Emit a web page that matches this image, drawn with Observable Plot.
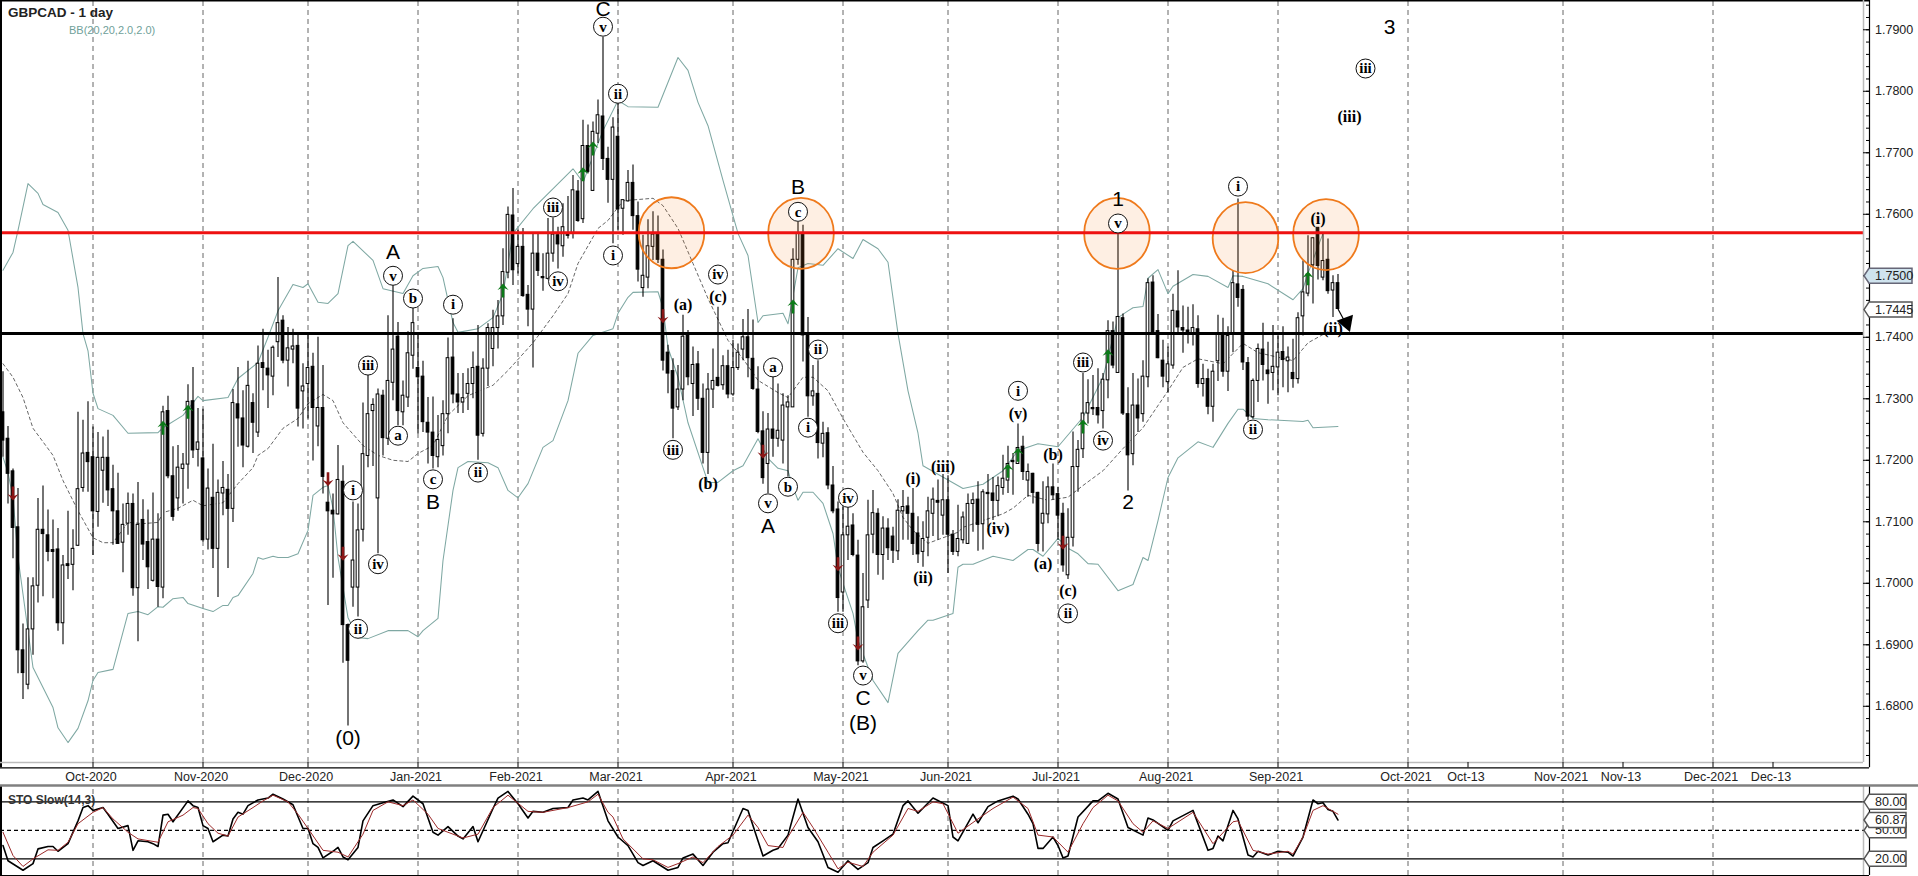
<!DOCTYPE html>
<html><head><meta charset="utf-8">
<script src="https://cdn.jsdelivr.net/npm/d3@7"></script>
<script src="https://cdn.jsdelivr.net/npm/@observablehq/plot@0.6"></script>
<style>html,body{margin:0;padding:0;background:#fff;overflow:hidden}svg{display:block}</style>
</head><body><div id="chart"></div>
<script>
const open=[1.7278,1.7235,1.7182,1.7091,1.6891,1.6835,1.6925,1.6996,1.7087,1.7078,
1.7054,1.7055,1.6935,1.7031,1.7030,1.7061,1.7155,1.7212,1.7205,1.7116,
1.7183,1.7204,1.7153,1.7117,1.7066,1.7097,1.7129,1.6992,1.7103,1.7067,
1.7004,1.7071,1.6993,1.7280,1.7174,1.7138,1.7186,1.7193,1.7296,1.7217,
1.7203,1.7071,1.7139,1.7056,1.7146,1.7152,1.7121,1.7291,1.7268,1.7222,
1.7293,1.7245,1.7358,1.7349,1.7336,1.7392,1.7427,1.7362,1.7380,1.7386,
1.7312,1.7324,1.7352,1.7255,1.7285,1.7131,1.7118,1.7112,1.7165,1.6932,
1.6993,1.6993,1.7087,1.7207,1.7280,1.7138,1.7305,1.7235,1.7326,1.7401,
1.7278,1.7302,1.7370,1.7350,1.7336,1.7261,1.7245,1.7205,1.7223,1.7275,
1.7367,1.7307,1.7294,1.7308,1.7324,1.7352,1.7243,1.7349,1.7381,1.7415,
1.7434,1.7505,1.7598,1.7519,1.7547,1.7469,1.7445,1.7536,1.7498,1.7495,
1.7536,1.7566,1.7548,1.7568,1.7568,1.7637,1.7592,1.7711,1.7638,1.7731,
1.7759,1.7690,1.7656,1.7726,1.7609,1.7621,1.7651,1.7597,1.7480,1.7497,
1.7547,1.7567,1.7526,1.7375,1.7345,1.7286,1.7315,1.7403,1.7324,1.7356,
1.7300,1.7212,1.7315,1.7334,1.7322,1.7353,1.7307,1.7350,1.7380,1.7400,
1.7365,1.7315,1.7247,1.7194,1.7250,1.7235,1.7232,1.7286,1.7286,1.7526,
1.7568,1.7403,1.7304,1.7308,1.7227,1.7244,1.7159,1.7120,1.6985,1.7078,
1.7094,1.7045,1.6873,1.6972,1.7079,1.7113,1.7046,1.7089,1.7076,1.7052,
1.7117,1.7125,1.7113,1.7081,1.7051,1.7074,1.7113,1.7134,1.7110,1.7135,
1.7079,1.7051,1.7070,1.7064,1.7129,1.7136,1.7096,1.7147,1.7146,1.7134,
1.7155,1.7167,1.7199,1.7194,1.7222,1.7167,1.7178,1.7147,1.7097,1.7112,
1.7156,1.7145,1.7113,1.7013,1.7074,1.7189,1.7218,1.7276,1.7285,1.7285,
1.7280,1.7330,1.7410,1.7342,1.7431,1.7275,1.7210,1.7289,1.7275,1.7335,
1.7489,1.7410,1.7362,1.7327,1.7354,1.7442,1.7415,1.7411,1.7405,1.7413,
1.7324,1.7332,1.7287,1.7361,1.7404,1.7344,1.7406,1.7486,1.7477,1.7358,
1.7270,1.7329,1.7380,1.7346,1.7342,1.7351,1.7376,1.7361,1.7342,1.7332,
1.7434,1.7471,1.7517,1.7578,1.7497,1.7526,1.7476,1.7488];
const close=[1.7232,1.7178,1.7090,1.6891,1.6854,1.6925,1.6995,1.7087,1.7080,1.7051,
1.7051,1.6935,1.7029,1.7028,1.7056,1.7153,1.7211,1.7197,1.7117,1.7204,
1.7204,1.7151,1.7117,1.7064,1.7095,1.7129,1.6992,1.7095,1.7063,1.7026,
1.7071,1.6994,1.7278,1.7174,1.7108,1.7188,1.7193,1.7295,1.7216,1.7229,
1.7070,1.7154,1.7056,1.7147,1.7155,1.7121,1.7293,1.7268,1.7224,1.7321,
1.7261,1.7357,1.7350,1.7338,1.7383,1.7423,1.7362,1.7382,1.7385,1.7284,
1.7320,1.7350,1.7285,1.7285,1.7173,1.7117,1.7112,1.7168,1.6932,1.6874,
1.7037,1.7086,1.7210,1.7275,1.7290,1.7307,1.7236,1.7329,1.7380,1.7280,
1.7305,1.7374,1.7423,1.7335,1.7262,1.7245,1.7207,1.7233,1.7275,1.7366,
1.7307,1.7294,1.7301,1.7324,1.7350,1.7240,1.7349,1.7415,1.7415,1.7434,
1.7506,1.7599,1.7509,1.7547,1.7467,1.7445,1.7536,1.7508,1.7496,1.7536,
1.7567,1.7551,1.7579,1.7565,1.7639,1.7589,1.7711,1.7669,1.7734,1.7761,
1.7690,1.7656,1.7741,1.7608,1.7623,1.7651,1.7597,1.7510,1.7500,1.7548,
1.7567,1.7526,1.7362,1.7341,1.7284,1.7315,1.7401,1.7335,1.7355,1.7300,
1.7212,1.7315,1.7329,1.7321,1.7353,1.7307,1.7350,1.7375,1.7400,1.7366,
1.7316,1.7246,1.7171,1.7250,1.7235,1.7248,1.7289,1.7294,1.7526,1.7568,
1.7403,1.7304,1.7312,1.7228,1.7243,1.7159,1.7117,1.6976,1.7078,1.7092,
1.7046,1.6873,1.6961,1.7078,1.7114,1.7046,1.7089,1.7057,1.7053,1.7118,
1.7124,1.7113,1.7064,1.7047,1.7072,1.7117,1.7136,1.7131,1.7135,1.7079,
1.7051,1.7072,1.7107,1.7129,1.7135,1.7095,1.7148,1.7145,1.7134,1.7158,
1.7170,1.7194,1.7197,1.7220,1.7181,1.7181,1.7147,1.7064,1.7113,1.7156,
1.7143,1.7110,1.7029,1.7074,1.7189,1.7217,1.7276,1.7293,1.7283,1.7273,
1.7331,1.7410,1.7354,1.7433,1.7276,1.7208,1.7289,1.7268,1.7336,1.7488,
1.7408,1.7366,1.7336,1.7356,1.7443,1.7416,1.7411,1.7408,1.7415,1.7324,
1.7332,1.7287,1.7344,1.7404,1.7344,1.7402,1.7488,1.7464,1.7359,1.7271,
1.7329,1.7381,1.7355,1.7340,1.7352,1.7375,1.7363,1.7367,1.7332,1.7431,
1.7473,1.7502,1.7561,1.7516,1.7524,1.7475,1.7488,1.7446];
const high=[1.7344,1.7255,1.7186,1.7154,1.6934,1.7009,1.7009,1.7138,1.7158,1.7119,
1.7103,1.7089,1.7045,1.7117,1.7087,1.7278,1.7265,1.7295,1.7254,1.7245,
1.7238,1.7249,1.7192,1.7179,1.7129,1.7147,1.7145,1.7164,1.7136,1.7119,
1.7147,1.7113,1.7288,1.7304,1.7222,1.7224,1.7211,1.7323,1.7351,1.7284,
1.7283,1.7186,1.7226,1.7168,1.7198,1.7177,1.7315,1.7351,1.7313,1.7361,
1.7308,1.7386,1.7413,1.7379,1.7386,1.7497,1.7435,1.7416,1.7413,1.7405,
1.7357,1.7405,1.7374,1.7400,1.7354,1.7161,1.7145,1.7224,1.7191,1.6934,
1.7132,1.7129,1.7293,1.7338,1.7300,1.7316,1.7314,1.7435,1.7484,1.7424,
1.7329,1.7409,1.7447,1.7405,1.7361,1.7302,1.7303,1.7273,1.7297,1.7399,
1.7430,1.7341,1.7341,1.7349,1.7376,1.7419,1.7365,1.7422,1.7444,1.7460,
1.7544,1.7612,1.7642,1.7574,1.7577,1.7484,1.7568,1.7568,1.7536,1.7593,
1.7594,1.7579,1.7617,1.7629,1.7663,1.7655,1.7753,1.7745,1.7750,1.7786,
1.7888,1.7709,1.7757,1.7782,1.7623,1.7671,1.7680,1.7620,1.7566,1.7591,
1.7604,1.7597,1.7542,1.7387,1.7365,1.7354,1.7436,1.7411,1.7384,1.7377,
1.7324,1.7341,1.7381,1.7449,1.7370,1.7379,1.7395,1.7389,1.7429,1.7445,
1.7428,1.7352,1.7279,1.7276,1.7338,1.7324,1.7308,1.7305,1.7544,1.7587,
1.7582,1.7432,1.7354,1.7362,1.7262,1.7253,1.7190,1.7132,1.7124,1.7124,
1.7113,1.7070,1.7016,1.7135,1.7151,1.7121,1.7108,1.7105,1.7091,1.7136,
1.7151,1.7140,1.7154,1.7108,1.7100,1.7140,1.7155,1.7168,1.7177,1.7175,
1.7086,1.7127,1.7116,1.7145,1.7147,1.7165,1.7152,1.7177,1.7172,1.7173,
1.7208,1.7223,1.7211,1.7259,1.7239,1.7194,1.7179,1.7148,1.7165,1.7173,
1.7194,1.7156,1.7130,1.7121,1.7246,1.7232,1.7341,1.7331,1.7338,1.7349,
1.7341,1.7427,1.7425,1.7572,1.7438,1.7318,1.7341,1.7332,1.7362,1.7495,
1.7500,1.7437,1.7395,1.7384,1.7470,1.7508,1.7451,1.7449,1.7453,1.7435,
1.7356,1.7348,1.7356,1.7436,1.7431,1.7417,1.7508,1.7625,1.7484,1.7367,
1.7332,1.7389,1.7423,1.7392,1.7419,1.7402,1.7417,1.7384,1.7397,1.7440,
1.7524,1.7565,1.7562,1.7578,1.7568,1.7560,1.7500,1.7502];
const low=[1.7205,1.7129,1.7040,1.6853,1.6811,1.6827,1.6883,1.6968,1.6978,1.7035,
1.6975,1.6922,1.6900,1.7006,1.6988,1.7060,1.7148,1.7148,1.7045,1.7091,
1.7130,1.7125,1.7062,1.7063,1.7017,1.7078,1.6979,1.6905,1.7037,1.6990,
1.7002,1.6961,1.6975,1.7170,1.7101,1.7117,1.7129,1.7153,1.7203,1.7189,
1.7067,1.7054,1.7024,1.6977,1.7110,1.7024,1.7099,1.7221,1.7188,1.7220,
1.7211,1.7237,1.7313,1.7284,1.7305,1.7367,1.7357,1.7319,1.7357,1.7254,
1.7251,1.7267,1.7199,1.7222,1.7145,1.6964,1.7008,1.7111,1.6870,1.6768,
1.6961,1.6945,1.7067,1.7188,1.7190,1.7048,1.7207,1.7224,1.7297,1.7256,
1.7256,1.7286,1.7348,1.7243,1.7245,1.7194,1.7186,1.7188,1.7207,1.7243,
1.7292,1.7276,1.7276,1.7281,1.7300,1.7200,1.7238,1.7320,1.7352,1.7381,
1.7419,1.7495,1.7484,1.7503,1.7465,1.7417,1.7350,1.7499,1.7475,1.7493,
1.7522,1.7511,1.7530,1.7560,1.7560,1.7587,1.7585,1.7666,1.7637,1.7715,
1.7671,1.7618,1.7552,1.7574,1.7566,1.7620,1.7574,1.7490,1.7465,1.7479,
1.7525,1.7520,1.7345,1.7308,1.7235,1.7281,1.7297,1.7321,1.7271,1.7281,
1.7194,1.7177,1.7284,1.7319,1.7314,1.7300,1.7304,1.7346,1.7362,1.7334,
1.7314,1.7243,1.7161,1.7146,1.7205,1.7221,1.7194,1.7173,1.7286,1.7517,
1.7360,1.7270,1.7288,1.7202,1.7204,1.7152,1.7113,1.6953,1.6953,1.7037,
1.7043,1.6866,1.6870,1.6959,1.7048,1.7013,1.7005,1.7037,1.7032,1.7037,
1.7070,1.7070,1.7045,1.7032,1.7026,1.7043,1.7076,1.7070,1.7078,1.7016,
1.7045,1.7043,1.7064,1.7063,1.7083,1.7052,1.7054,1.7091,1.7102,1.7108,
1.7143,1.7146,1.7143,1.7194,1.7167,1.7140,1.7129,1.7051,1.7051,1.7097,
1.7135,1.7070,1.7018,1.7006,1.7059,1.7148,1.7203,1.7259,1.7273,1.7259,
1.7251,1.7300,1.7349,1.7341,1.7273,1.7150,1.7191,1.7245,1.7262,1.7318,
1.7408,1.7365,1.7318,1.7310,1.7348,1.7405,1.7374,1.7389,1.7386,1.7317,
1.7303,1.7274,1.7262,1.7328,1.7335,1.7312,1.7375,1.7449,1.7346,1.7264,
1.7267,1.7294,1.7329,1.7291,1.7313,1.7305,1.7318,1.7310,1.7317,1.7324,
1.7402,1.7466,1.7454,1.7493,1.7492,1.7470,1.7432,1.7446];

const upperBar=[0,2,3,5,7,8,11,13,15,16,17,18,19,22,25,31,32,36,39,40,45,47,51,53,55,58,60,61,63,65,67,69,70,74,76,80,82,84,87,88,90,91,95,98,100,102,106,114,116,120,123,125,131,135,137,139,141,144,147,149,151,152,156,157,159,161,164,167,170,172,175,177,179,181,183,184,192,196,200,203,207,211,216,220,223,225,226,228,229,231,233,234,238,241,245,246,248,253,258,260,261,264];
const upperBand=[1.7509,1.7538,1.7574,1.7650,1.7634,1.7616,1.7603,1.7574,1.7481,1.7406,1.7378,1.7309,1.7284,1.7273,1.7244,1.7245,1.7253,1.7273,1.7304,1.7297,1.7302,1.7333,1.7359,1.7400,1.7443,1.7486,1.7481,1.7487,1.7457,1.7455,1.7471,1.7549,1.7556,1.7525,1.7479,1.7471,1.7500,1.7512,1.7515,1.7497,1.7424,1.7408,1.7414,1.7432,1.7471,1.7569,1.7609,1.7674,1.7652,1.7736,1.7785,1.7775,1.7774,1.7855,1.7834,1.7782,1.7744,1.7655,1.7569,1.7533,1.7424,1.7435,1.7439,1.7422,1.7513,1.7520,1.7517,1.7544,1.7528,1.7559,1.7544,1.7522,1.7406,1.7313,1.7244,1.7191,1.7154,1.7161,1.7183,1.7216,1.7227,1.7222,1.7270,1.7335,1.7432,1.7443,1.7448,1.7450,1.7496,1.7510,1.7471,1.7483,1.7502,1.7499,1.7481,1.7500,1.7499,1.7487,1.7461,1.7479,1.7504,1.7569];
const lowerBar=[0,1,2,3,6,10,11,13,15,17,18,19,22,25,27,29,31,32,34,36,37,40,42,44,45,46,47,50,51,52,54,55,57,59,61,62,64,65,66,67,69,71,73,77,81,83,84,87,88,90,91,93,97,99,101,103,105,108,110,113,115,118,122,123,125,126,131,132,133,135,137,140,141,143,146,148,151,153,155,157,158,159,160,162,164,166,167,168,170,171,174,177,179,183,185,186,190,191,192,194,198,202,205,206,208,211,213,215,217,219,223,226,228,229,231,233,235,239,242,245,247,248,250,253,260,261,262,267];
const lowerBand=[1.7205,1.7180,1.7139,1.7042,1.6863,1.6798,1.6765,1.6741,1.6764,1.6809,1.6842,1.6855,1.6860,1.6951,1.6954,1.6949,1.6962,1.6961,1.6975,1.6977,1.6967,1.6959,1.6954,1.6964,1.6964,1.6977,1.6980,1.7016,1.7042,1.7039,1.7044,1.7042,1.7042,1.7048,1.7086,1.7143,1.7156,1.7159,1.7122,1.7042,1.6944,1.6912,1.6910,1.6923,1.6923,1.6913,1.6923,1.6943,1.7037,1.7151,1.7188,1.7198,1.7196,1.7188,1.7151,1.7139,1.7162,1.7221,1.7232,1.7297,1.7374,1.7403,1.7414,1.7439,1.7465,1.7473,1.7474,1.7448,1.7383,1.7335,1.7261,1.7188,1.7164,1.7164,1.7183,1.7191,1.7235,1.7203,1.7187,1.7183,1.7156,1.7135,1.7148,1.7148,1.7130,1.7081,1.7026,1.7000,1.6951,1.6907,1.6842,1.6806,1.6886,1.6923,1.6940,1.6940,1.6951,1.7026,1.7031,1.7031,1.7044,1.7037,1.7055,1.7055,1.7044,1.7073,1.7057,1.7048,1.7032,1.7031,1.6988,1.6998,1.7042,1.7037,1.7102,1.7172,1.7204,1.7230,1.7221,1.7260,1.7283,1.7283,1.7268,1.7266,1.7263,1.7265,1.7253,1.7255];
const middleBar=[0,2,4,6,10,12,15,18,20,22,25,28,31,32,35,38,40,44,47,50,51,53,56,59,61,64,66,68,72,75,78,81,83,86,89,93,98,101,106,110,113,115,119,121,124,130,132,135,138,141,145,148,151,155,157,160,162,165,168,172,175,178,180,182,185,188,191,192,196,200,202,205,209,213,216,220,224,228,233,236,239,244,248,251,258,261,265];
const middleBand=[1.7357,1.7335,1.7302,1.7252,1.7208,1.7167,1.7118,1.7074,1.7066,1.7066,1.7099,1.7097,1.7099,1.7115,1.7122,1.7135,1.7126,1.7131,1.7162,1.7188,1.7208,1.7219,1.7252,1.7268,1.7292,1.7307,1.7297,1.7261,1.7224,1.7208,1.7200,1.7198,1.7211,1.7224,1.7273,1.7305,1.7322,1.7346,1.7391,1.7435,1.7471,1.7520,1.7577,1.7590,1.7622,1.7626,1.7614,1.7577,1.7520,1.7463,1.7395,1.7365,1.7330,1.7310,1.7302,1.7335,1.7335,1.7313,1.7268,1.7213,1.7183,1.7146,1.7107,1.7086,1.7065,1.7074,1.7083,1.7091,1.7102,1.7113,1.7122,1.7143,1.7135,1.7140,1.7159,1.7183,1.7219,1.7253,1.7313,1.7351,1.7365,1.7357,1.7390,1.7375,1.7362,1.7391,1.7409];

const stoKBar=[0,1,4,6,7,9,10,11,13,15,16,17,18,20,21,23,25,26,27,29,30,31,32,33,34,37,38,39,40,41,42,44,45,46,47,48,49,51,53,54,56,58,60,61,62,63,64,66,67,68,69,71,72,74,76,78,80,82,84,86,87,89,91,92,94,95,98,99,101,103,105,106,108,110,113,114,116,117,119,
121,123,125,127,128,130,133,135,136,138,140,142,144,145,148,149,152,154,155,157,159,161,163,165,167,169,171,173,174,176,178,180,181,183,186,189,190,191,194,195,197,199,202,203,205,206,207,208,210,211,212,213,215,218,219,221,223,225,228,229,230,233,234,238,
241,242,243,244,246,247,249,250,251,253,255,257,258,260,262,263,264,265,266,267];
const stoK=[34,18,8,15,30.5,33,33,28,36,60,74,76,71,74,67,52,55,29,39,38,36,33,66,67,59,81,76,74,55,52,38,45,44,62,69,67,76,82,84,88,83,77,52,52,36,32,21,28,32,22,19,32,60,76,79,82,75,86,78,48,45,54,44,41,54,38,73,84,91,78,63,70,69,73,74,82,84,82,91,
60,43,34,16,13,18,8,11,21,25,13,27,36,37,73,71,23,29,31,45,83,53,38,11,6,18,9,16,32,39,46,76,81,68,84,76,43,39,67,58,75,81,86,83,67,57,31,31,43,34,21,23,64,81,81,89,83,53,45,63,61,50,60,71,
29,31,44,39,71,62,24,22,28,24,28,27,23,43,82,78,79,72,70,60.87];
const stoDBar=[0,2,4,6,9,11,13,15,18,20,22,25,27,31,33,36,38,39,41,43,45,47,50,52,54,57,59,61,64,67,69,72,74,77,80,82,85,87,92,95,98,101,105,108,113,117,119,121,
122,124,128,130,133,135,138,140,143,146,149,151,153,156,157,160,162,165,167,169,172,174,178,181,183,186,188,191,195,198,202,205,207,210,213,216,218,221,223,226,228,230,233,238,
242,246,247,250,253,257,258,260,262,264,267];
const stoD=[48,23.5,12,20,29.5,29,37.5,57,69,74,62,48,41,37.5,59,66,74,73,57,47,44,64,74,81,87,80,67,52,29,27,22,46,71,80,76,82,67,52,42,46,74,87,70,69,74,80,88,69,
64,41,20,19,11,15,22,16,33,45,66,53,34,32,43,69,53,27,9.5,16.5,12,27,45,73,70,80,78,47,62,73,85,73,45,43,27,57,74,87,81,57,48,60,52,69,
36,59,60,29,25,28,25,43,71,76,67];

const dateBars=[18,40,61,83,103,123,146,168,189,211,233,255,281,293,312,324,342,354];
const dateLabels=["Oct-2020","Nov-2020","Dec-2020","Jan-2021","Feb-2021","Mar-2021","Apr-2021","May-2021","Jun-2021","Jul-2021","Aug-2021","Sep-2021","Oct-2021","Oct-13","Nov-2021","Nov-13","Dec-2021","Dec-13"];
const monthGridBars=[18,40,61,83,103,123,146,168,189,211,233,255,281,312,342];
const priceTicks=[1.68,1.69,1.70,1.71,1.72,1.73,1.74,1.75,1.76,1.77,1.78,1.79];
const resistance=1.7570, support=1.7406, lastBid=1.7500, lastClose=1.7445;
const zoneBars=[133.7,159.6,222.8,248.5,264.6];
const zonePrices=[1.7570,1.7569,1.7569,1.7562,1.7567];
const upArrowBars=[32,37,100,116,118,158,201,203,216,221,261];
const upArrowPrices=[1.7253,1.7279,1.7476,1.7665,1.7707,1.7450,1.7183,1.7209,1.7255,1.7369,1.7496];
const downArrowBars=[2,65,68,132,152,167,171,212];
const downArrowPrices=[1.7146,1.7169,1.7048,1.7434,1.7214,1.7031,1.6902,1.7066];
const circledText=["v","ii","iii","iv","i","v","b","i","iii","a","i","iv","ii","c","ii","iv","c","a","ii","i","v","i","iii","iv","iii","v","b","iv","iii","v","ii","i","iii","ii"];
const circledBar=[120,123,110,111,122,78,82,90,73,79,70,75,71,86,95,143,159,154,163,161,223,203,216,220,134,153,157,169,167,172,213,247,272.5,250];
const circledPrice=[1.7905,1.7796,1.7611,1.7491,1.7533,1.7500,1.7463,1.7453,1.7354,1.7240,1.7151,1.7031,1.6926,1.7169,1.7180,1.7502,1.7604,1.7351,1.7380,1.7253,1.7585,1.7313,1.7359,1.7232,1.7217,1.7130,1.7157,1.7139,1.6935,1.6850,1.6951,1.7645,1.7837,1.7250];
const parenText=["(a)","(c)","(b)","(i)","(iii)","(ii)","(iv)","(a)","(b)","(c)","(v)","(iii)","(i)","(ii)"];
const parenBar=[136,143,141,182,188,184,199,208,210,213,203,269.3,263,266];
const parenPrice=[1.7452,1.7466,1.7161,1.7170,1.7190,1.7008,1.7089,1.7032,1.7209,1.6987,1.7276,1.7759,1.7593,1.7413];
const waveText=["C","A","B","(0)","B","A","C","(B)","1","2","3"];
const waveBar=[120,78,86,69,159,153,172,172,223,225,277.3];
const wavePrice=[1.7934,1.7538,1.7131,1.6748,1.7644,1.7092,1.6813,1.6772,1.7624,1.7131,1.7904];

const SANS="Liberation Sans, Arial, sans-serif", SERIF="Liberation Serif, Times New Roman, serif";
const TEAL="#7fa8a3";
const bars=d3.range(high.length);
const ser=(b,v)=>b.map((x,i)=>({x,v:v[i]}));
const ellipse={draw(c,s){const r=Math.sqrt(s/Math.PI),a=r*0.925,b=r,k=0.5523;
  c.moveTo(a,0);c.bezierCurveTo(a,k*b,k*a,b,0,b);c.bezierCurveTo(-k*a,b,-a,k*b,-a,0);c.bezierCurveTo(-a,-k*b,-k*a,-b,0,-b);c.bezierCurveTo(k*a,-b,a,-k*b,a,0);c.closePath();}};
const tag=w=>({draw(c){c.moveTo(0,0);c.lineTo(5,-7.5);c.lineTo(w,-7.5);c.lineTo(w,7.5);c.lineTo(5,7.5);c.closePath();}});
const signalArrow={draw(c){c.moveTo(0,-7);c.lineTo(5.5,-0.5);c.lineTo(1.3,-2.5);c.lineTo(1.3,7);c.lineTo(-1.3,7);c.lineTo(-1.3,-2.5);c.lineTo(-5.5,-0.5);c.closePath();}};
const FR=372.1, AX=373.3, LAB=374.4, FAR=383.1;
const yTop=1.79476, yFrame=1.67086, yAxis=1.6700, yLabel=1.66855;

const main=Plot.plot({width:1918,height:785,marginLeft:0,marginRight:55,marginTop:0,marginBottom:23,
  x:{type:"linear",domain:[-0.5,FR],axis:null},y:{domain:[yFrame,yTop],axis:null},
  style:{background:"transparent",overflow:"visible",fontFamily:SANS},
  marks:[
    Plot.ruleX(monthGridBars,{x:d=>d,y1:yFrame,y2:yTop,stroke:"#666",strokeWidth:1,strokeDasharray:"5,4"}),
    Plot.line(ser(upperBar,upperBand),{x:"x",y:"v",stroke:TEAL,strokeWidth:1.05}),
    Plot.line(ser(lowerBar,lowerBand),{x:"x",y:"v",stroke:TEAL,strokeWidth:1.05}),
    Plot.line(ser(middleBar,middleBand),{x:"x",y:"v",stroke:"#666",strokeWidth:1,strokeDasharray:"3,3"}),
    Plot.ruleX(bars,{x:d=>d,y1:d=>low[d],y2:d=>high[d],stroke:"#000",strokeWidth:1.1}),
    Plot.rect(bars,{x1:d=>d-0.27,x2:d=>d+0.27,y1:d=>open[d],y2:d=>close[d],fill:d=>close[d]>=open[d]?"#fff":"#000",stroke:"#000",strokeWidth:1}),
    Plot.dot(zoneBars.map((x,i)=>({x,v:zonePrices[i]})),{x:"x",y:"v",r:35.5,symbol:ellipse,fill:"#f5822a",fillOpacity:0.13,stroke:"#ef7a1c",strokeWidth:1.8}),
    Plot.ruleY([resistance],{x1:-0.5,x2:FR,stroke:"#ee1111",strokeWidth:3}),
    Plot.ruleY([support],{x1:-0.5,x2:FR,stroke:"#000",strokeWidth:3}),
    Plot.dot(ser(upArrowBars,upArrowPrices),{x:"x",y:"v",r:5,symbol:signalArrow,fill:"#0b7a18"}),
    Plot.dot(ser(downArrowBars,downArrowPrices),{x:"x",y:"v",r:5,symbol:signalArrow,rotate:180,fill:"#8a1616"}),
    Plot.link([0],{x1:()=>267,y1:()=>1.7446,x2:()=>269,y2:()=>1.7416,stroke:"#000",strokeWidth:1.2}),
    Plot.dot([0],{x:()=>268.7,y:()=>1.7424,r:6.5,symbol:"triangle",rotate:160,fill:"#000"}),
    Plot.dot(circledBar.map((x,i)=>({x,v:circledPrice[i]})),{x:"x",y:"v",r:9.5,fill:"#fff",stroke:"#111",strokeWidth:1}),
    Plot.text(circledText,{x:(d,i)=>circledBar[i],y:(d,i)=>circledPrice[i],text:d=>d,fontFamily:SERIF,fontWeight:"bold",fontSize:15,fill:"#000"}),
    Plot.text(parenText,{x:(d,i)=>parenBar[i],y:(d,i)=>parenPrice[i],text:d=>d,fontFamily:SERIF,fontWeight:"bold",fontSize:16,fill:"#000"}),
    Plot.text(waveText,{x:(d,i)=>waveBar[i],y:(d,i)=>wavePrice[i],text:d=>d,fontFamily:SANS,fontSize:21,fill:"#000"}),
    // frame and axes
    Plot.ruleX([-0.5],{x:d=>d+0.1,y1:yAxis,y2:yTop,stroke:"#000",strokeWidth:2}),
    Plot.ruleY([yTop],{x1:-0.5,x2:AX,stroke:"#000",strokeWidth:2}),
    Plot.ruleY([yFrame],{x1:-0.5,x2:FR,stroke:"#bbb",strokeWidth:1.5}),
    Plot.ruleX([FR],{y1:yFrame,y2:yTop,stroke:"#bbb",strokeWidth:1.5}),
    Plot.ruleY([yAxis],{x1:-0.5,x2:AX,stroke:"#000",strokeWidth:1.2}),
    Plot.ruleX([AX],{y1:yAxis,y2:yTop,stroke:"#000",strokeWidth:1.2}),
    Plot.ruleX(dateBars,{x:d=>d,y1:yAxis,y2:yFrame,stroke:"#000",strokeWidth:1}),
    Plot.ruleY(d3.range(1.672,1.794,0.002),{y:d=>d,x1:FR+0.6,x2:AX,stroke:"#000",strokeWidth:1}),
    Plot.ruleY(priceTicks,{y:d=>d,x1:FR,x2:AX,stroke:"#000",strokeWidth:1}),
    Plot.text(priceTicks,{x:()=>LAB,y:d=>d,text:d=>d.toFixed(4),textAnchor:"start",fontSize:12.5,fill:"#222"}),
    Plot.text(dateLabels,{x:(d,i)=>dateBars[i]-0.4,y:()=>yLabel,text:d=>d,fontSize:12.5,fill:"#222"}),
    Plot.dot([lastBid],{x:()=>FR+0.1,y:d=>d,r:5,symbol:tag(48),fill:"#cfe3ee",stroke:"#667"}),
    Plot.text([lastBid],{x:()=>LAB,y:d=>d,text:d=>d.toFixed(4),textAnchor:"start",fontSize:12.5,fill:"#222"}),
    Plot.dot([lastClose],{x:()=>FR+0.1,y:d=>d,r:5,symbol:tag(48),fill:"#fff",stroke:"#555"}),
    Plot.text([lastClose],{x:()=>LAB,y:d=>d,text:d=>d.toFixed(4),textAnchor:"start",fontSize:12.5,fill:"#222"}),
    Plot.text(["GBPCAD - 1 day"],{x:()=>1,y:()=>1.7927,text:d=>d,textAnchor:"start",fontSize:13.5,fontWeight:"bold",fill:"#222"}),
    Plot.text(["BB(20,20,2.0,2.0)"],{x:()=>13.2,y:()=>1.7899,text:d=>d,textAnchor:"start",fontSize:11,fill:"#6f9f9a"})
  ]});

const stoLevels=[80,50,20];
const stoTop=97.2, stoBot=2.5;
const stoPlot=Plot.plot({width:1918,height:91,marginLeft:0,marginRight:55,marginTop:0,marginBottom:1,
  x:{type:"linear",domain:[-0.5,FR],axis:null},y:{domain:[stoBot,stoTop],axis:null},
  style:{background:"transparent",overflow:"visible",fontFamily:SANS},
  marks:[
    Plot.ruleX(monthGridBars,{x:d=>d,y1:stoBot,y2:stoTop,stroke:"#666",strokeWidth:1,strokeDasharray:"5,4"}),
    Plot.ruleY([80,20],{x1:-0.5,x2:FR,stroke:"#000",strokeWidth:1.2}),
    Plot.ruleY([50],{x1:-0.5,x2:FR,stroke:"#000",strokeWidth:1.2,strokeDasharray:"4,3"}),
    Plot.line(ser(stoKBar,stoK),{x:"x",y:"v",stroke:"#000",strokeWidth:1.6}),
    Plot.line(ser(stoDBar,stoD),{x:"x",y:"v",stroke:"#9c2a2a",strokeWidth:1}),
    Plot.ruleX([FR],{y1:stoBot,y2:stoTop,stroke:"#bbb",strokeWidth:1.5}),
    Plot.ruleX([AX],{y1:stoBot,y2:stoTop,stroke:"#000",strokeWidth:1.2}),
    Plot.ruleY(stoLevels,{y:d=>d,x1:FR,x2:AX,stroke:"#000",strokeWidth:1}),
    Plot.ruleY([stoBot],{x1:-0.5,x2:AX,stroke:"#000",strokeWidth:1.2}),
    Plot.ruleX([-0.4],{y1:stoBot,y2:stoTop,stroke:"#000",strokeWidth:2}),
    Plot.ruleY([stoTop],{x1:-0.5,x2:FAR,stroke:"#808080",strokeWidth:2.5}),
    Plot.dot(stoLevels,{x:()=>FR+0.1,y:d=>d,r:5,symbol:tag(42),fill:"#fff",stroke:"#555"}),
    Plot.text(stoLevels,{x:()=>LAB,y:d=>d,text:d=>d.toFixed(2),textAnchor:"start",fontSize:12.5,fill:"#222"}),
    Plot.dot([60.87],{x:()=>FR+0.1,y:d=>d,r:5,symbol:tag(42),fill:"#fff",stroke:"#555"}),
    Plot.text([60.87],{x:()=>LAB,y:d=>d,text:d=>d.toFixed(2),textAnchor:"start",fontSize:12.5,fill:"#222"}),
    Plot.text(["STO Slow(14,3)"],{x:()=>1,y:()=>81.5,text:d=>d,textAnchor:"start",fontSize:12,fontWeight:"bold",fill:"#333"})
  ]});
const root=document.getElementById("chart");
root.append(main,stoPlot);
</script></body></html>
